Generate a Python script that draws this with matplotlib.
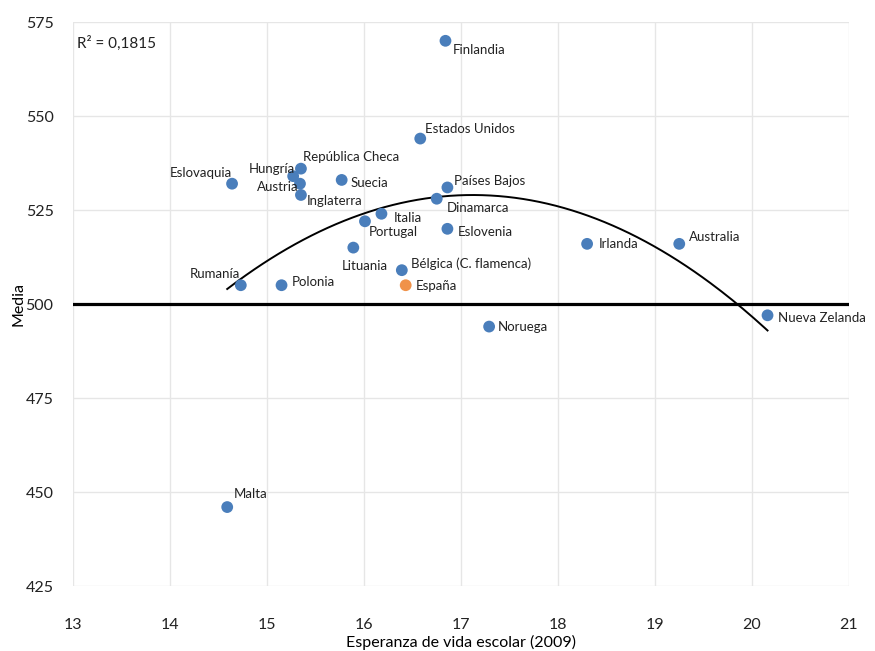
import numpy as np
import matplotlib.pyplot as plt

plt.rcParams['font.family'] = ['Lato', 'DejaVu Sans']

# Data
paises = ['Finlandia', 'Estados Unidos', 'República Checa', 'Hungría', 'Austria',
          'Inglaterra', 'Eslovaquia', 'Suecia', 'Países Bajos', 'Dinamarca',
          'Italia', 'Portugal', 'Eslovenia', 'Lituania', 'Irlanda', 'Australia',
          'Bélgica (C. flamenca)', 'España', 'Rumanía', 'Polonia', 'Noruega',
          'Nueva Zelanda', 'Malta']
esperanza = [16.84, 16.58, 15.35, 15.27, 15.34, 15.35, 14.64, 15.77, 16.86, 16.75,
             16.18, 16.01, 16.86, 15.89, 18.30, 19.25, 16.39, 16.43, 14.73, 15.15,
             17.29, 20.16, 14.59]
media = [570, 544, 536, 534, 532, 529, 532, 533, 531, 528,
         524, 522, 520, 515, 516, 516, 509, 505, 505, 505,
         494, 497, 446]
r2_texto = 'R² = 0,1815'

# label placement (pixels offset, alignment)
offsets = {
    'Finlandia': (7, -9, 'left'), 'Estados Unidos': (5, 10, 'left'),
    'República Checa': (2, 12, 'left'), 'Hungría': (2, 7, 'right'),
    'Austria': (-1, -3, 'right'), 'Inglaterra': (6, -6, 'left'),
    'Eslovaquia': (0, 11, 'right'), 'Suecia': (9, -3, 'left'),
    'Países Bajos': (7, 6, 'left'), 'Dinamarca': (10, -9, 'left'),
    'Italia': (12, -4, 'left'), 'Portugal': (4, -11, 'left'),
    'Eslovenia': (10, -3, 'left'), 'Lituania': (-12, -18, 'left'),
    'Irlanda': (12, 0, 'left'), 'Australia': (10, 7, 'left'),
    'Bélgica (C. flamenca)': (9, 6, 'left'), 'España': (10, -1, 'left'),
    'Rumanía': (-1, 11, 'right'), 'Polonia': (10, 3, 'left'),
    'Noruega': (9, 0, 'left'), 'Nueva Zelanda': (10, -3, 'left'),
    'Malta': (7, 13, 'left'),
}

x = np.array(esperanza)
y = np.array(media)

fig = plt.figure(figsize=(8.75, 6.51), dpi=100)
ax = fig.add_axes([0.0834, 0.0998, 0.8869, 0.8664])

ax.set_xlim(13, 21)
ax.set_ylim(425, 575)
ax.set_xticks(range(13, 22))
ax.set_yticks(range(425, 576, 25))
ax.grid(True, color='#e6e6e6', linewidth=1)
ax.set_axisbelow(True)
for s in ax.spines.values():
    s.set_visible(False)
ax.tick_params(length=0, labelsize=11.5, colors='#222222')
ax.tick_params(axis='x', pad=23)
ax.tick_params(axis='y', pad=14)

ax.axhline(500, color='black', linewidth=2.3, zorder=2)

# polynomial trend (order 2)
coef = np.polyfit(x, y, 2)
xs = np.linspace(x.min(), x.max(), 200)
ax.plot(xs, np.polyval(coef, xs), color='black', linewidth=1.4, zorder=2)

colores = ['#f0924a' if p == 'España' else '#4a7ebb' for p in paises]
ax.scatter(x, y, s=72, c=colores, zorder=3, linewidths=0)

for p, xi, yi in zip(paises, x, y):
    dx, dy, ha = offsets[p]
    ax.annotate(p, (xi, yi), xytext=(dx, dy), textcoords='offset pixels',
                ha=ha, va='center', fontsize=9.5, color='#222222', zorder=4)

ax.text(0.005, 0.975, r2_texto, transform=ax.transAxes, ha='left', va='top',
        fontsize=11, color='#222222')

ax.set_xlabel('Esperanza de vida escolar (2009)', fontsize=11.5, labelpad=2)
ax.set_ylabel('Media', fontsize=11.5, labelpad=0)

fig.savefig('out.png', dpi=100)
